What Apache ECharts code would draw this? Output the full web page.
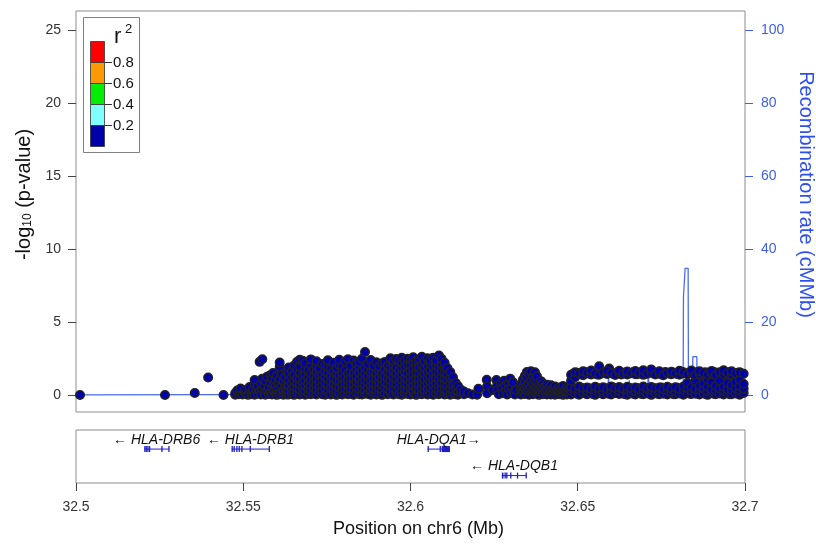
<!DOCTYPE html>
<html><head><meta charset="utf-8">
<script src="https://cdn.jsdelivr.net/npm/echarts@6/dist/echarts.min.js"></script>
<style>html,body{margin:0;padding:0;background:#fff}#c{width:816px;height:544px}</style>
</head><body><div id="c"></div>
<script>
// ---- Data (positions in Mb on chr6, values are -log10 p) ----
// Each entry: [position, logp, logp, ...] (SNPs, grouped by position)
const snpsWest = [
 [32.5012,0.0],[32.5266,0.0],[32.5355,0.14],[32.5395,1.2],[32.5441,0.0],
 [32.5476,0.02,0.12],[32.5482,0.31],[32.5487,0.05],[32.5492,0.18,0.45],[32.5498,0.03],
 [32.5503,0.22],[32.5508,0.08,0.36],[32.5514,0.01],[32.5519,0.27,0.55],[32.5524,0.06],
 [32.5529,0.15,0.41],[32.5534,0.02,0.72,1.02],[32.5539,0.33],[32.5543,0.09,0.58],
 [32.5549,0.24,2.27],[32.5553,0.04,0.81],[32.5557,0.38,1.12,2.45],[32.5562,0.12,0.63],
 [32.5566,0.02,0.95],[32.5571,0.29,1.25],[32.5576,0.07,0.52],[32.5581,0.18,0.86,1.36],
 [32.5586,0.03,0.44,1.15],[32.5589,1.50],[32.5591,0.25,0.72],[32.5596,0.09,0.58,1.02],
 [32.5600,0.01,0.35,1.31],[32.5605,0.16,0.80],[32.5609,0.05,0.47,1.08,1.62,1.92,2.22],
 [32.5615,0.21,0.66,1.42],[32.5620,0.02,0.31,0.93],[32.5625,0.12,0.55,1.20],
 [32.5630,0.04,0.38,0.78,1.58]
];
const snpsBlockLow = [
 [32.5640,0.17,0.52,0.90,1.28],[32.5649,0.22,0.60,0.98],[32.5656,0.14,0.47,0.83,1.19],
 [32.5665,0.25,0.63,1.04],[32.5673,0.19,0.55,0.93,1.31],[32.5681,0.10,0.45,0.81,1.17],
 [32.5690,0.23,0.58,0.96],[32.5698,0.16,0.50,0.87,1.24],[32.5706,0.21,0.61,1.00],
 [32.5715,0.13,0.46,0.84,1.22],[32.5723,0.24,0.59,0.97],[32.5732,0.18,0.51,0.89,1.26],
 [32.5740,0.11,0.48,0.85,1.16],[32.5749,0.26,0.62,1.03],[32.5757,0.15,0.53,0.91,1.29],
 [32.5766,0.20,0.57,0.94],[32.5774,0.12,0.49,0.86,1.23],[32.5783,0.24,0.60,1.01],
 [32.5791,0.17,0.54,0.90,1.27],[32.5800,0.22,0.56,0.95],[32.5808,0.14,0.50,0.88,1.25],
 [32.5817,0.25,0.63,1.02],[32.5825,0.18,0.47,0.84,1.20],[32.5834,0.10,0.58,0.96],
 [32.5842,0.21,0.52,0.92,1.30],[32.5851,0.16,0.61,0.99],[32.5859,0.23,0.46,0.85,1.21],
 [32.5868,0.13,0.55,0.93],[32.5876,0.20,0.59,0.97,1.33],[32.5885,0.24,0.48,0.87],
 [32.5893,0.15,0.57,0.94,1.26],[32.5902,0.22,0.51,0.89],[32.5910,0.12,0.62,1.00,1.35],
 [32.5919,0.25,0.54,0.91],[32.5927,0.17,0.49,0.86,1.24],[32.5936,0.21,0.60,0.98],
 [32.5944,0.14,0.53,0.92,1.30],[32.5953,0.23,0.58,0.95],[32.5961,0.11,0.47,0.85,1.22],
 [32.5970,0.19,0.61,1.01],[32.5978,0.24,0.52,0.90,1.28],[32.5987,0.16,0.56,0.94],
 [32.5995,0.22,0.50,0.88,1.32],[32.6004,0.13,0.59,0.97],[32.6012,0.20,0.48,0.86,1.25],
 [32.6021,0.25,0.62,1.02],[32.6029,0.15,0.54,0.91,1.29],[32.6038,0.21,0.57,0.96],
 [32.6046,0.12,0.51,0.89,1.27],[32.6055,0.24,0.60,0.99],[32.6063,0.18,0.46,0.84,1.23],
 [32.6072,0.14,0.58,0.95],[32.6080,0.23,0.53,0.92,1.31],[32.6089,0.17,0.61,1.00],
 [32.6097,0.20,0.49,0.87,1.26],[32.6106,0.25,0.56,0.94],[32.6114,0.13,0.52,0.90,1.18],
 [32.6123,0.22,0.59,0.97],[32.6131,0.16,0.48,0.68]
];
const snpsEastLow = [
 [32.6486,0.18,0.44,1.46],[32.6498,0.08,0.36,1.52],[32.6510,0.21,0.49,1.42],[32.6522,0.11,0.38,1.58],
 [32.6534,0.19,0.47,1.45],[32.6546,0.07,0.35,1.53],[32.6558,0.22,0.50,1.40],[32.6570,0.10,0.39,1.57],
 [32.6582,0.17,0.46,1.49],[32.6594,0.08,0.33,1.62,1.82],[32.6606,0.20,0.51,1.44],[32.6618,0.12,0.37,1.56],
 [32.6630,0.18,0.45,1.41],[32.6642,0.06,0.34,1.54],[32.6654,0.21,0.49,1.47],[32.6666,0.09,0.36,1.58],
 [32.6678,0.19,0.48,1.42],[32.6690,0.07,0.32,1.55],[32.6702,0.22,0.50,1.45],[32.6714,0.11,0.39,1.60],
 [32.6726,0.17,0.46,1.48],[32.6738,0.08,0.34,1.53],[32.6750,0.20,0.51,1.40],[32.6762,0.12,0.37,1.57],
 [32.6774,0.18,0.47,1.46],[32.6786,0.06,0.33,1.52],[32.6798,0.21,0.49,1.44],[32.6810,0.10,0.38,1.59],
 [32.6822,0.17,0.45,1.47],[32.6834,0.08,0.35,1.54],[32.6846,0.19,0.50,1.41],[32.6858,0.11,0.36,1.58,1.05],
 [32.6870,0.20,0.48,1.45],[32.6882,0.07,0.33,1.55,0.88],[32.6894,0.18,0.47,1.42],[32.6906,0.09,0.38,1.60,1.00],
 [32.6918,0.21,0.51,1.47],[32.6930,0.12,0.35,1.53,0.84],[32.6942,0.17,0.46,1.39],[32.6954,0.06,0.32,1.57,1.02],
 [32.6966,0.20,0.49,1.44],[32.6978,0.10,0.37,1.52,0.80],[32.6990,0.18,0.45,1.48]
];
const snpsBlockA = [
 [32.5636,0.03,0.31,0.66,1.02,1.45,1.88],[32.5645,0.08,0.42,0.79,1.21,1.62],
 [32.5652,0.01,0.27,0.58,0.97,1.38,2.02],[32.5661,0.12,0.49,0.84,1.15,1.74,2.28],
 [32.5669,0.04,0.36,0.71,1.09,1.53,1.96,2.41],[32.5678,0.15,0.52,0.88,1.32,2.35],
 [32.5685,0.02,0.29,0.63,1.01,1.44,1.81,2.18],[32.5694,0.09,0.44,0.77,1.19,1.67],
 [32.5702,0.05,0.33,0.69,1.06,1.49,2.08,2.44],[32.5711,0.11,0.47,0.86,1.27,1.72],
 [32.5719,0.03,0.38,0.74,1.12,1.58,1.99,2.31],[32.5728,0.14,0.55,0.92,1.35,1.83],
 [32.5736,0.06,0.31,0.67,1.04,1.41,2.12],[32.5745,0.02,0.43,0.81,1.24,1.63,2.02],
 [32.5753,0.10,0.35,0.72,1.08,1.51,1.92,2.38],[32.5762,0.04,0.48,0.89,1.31,1.76],
 [32.5770,0.13,0.39,0.76,1.14,1.57,2.21],[32.5779,0.01,0.28,0.64,0.99,1.46,1.85],
 [32.5787,0.08,0.51,0.91,1.33,2.05,2.42],[32.5796,0.03,0.37,0.73,1.11,1.54,1.97],
 [32.5804,0.12,0.45,0.83,1.22,1.68,2.29],[32.5813,0.05,0.32,0.68,1.05,1.47,2.45],
 [32.5821,0.09,0.41,0.79,1.18,1.61,2.01],[32.5830,0.02,0.34,0.71,1.13,1.52,2.36],
 [32.5838,0.14,0.53,0.87,1.28,1.79,2.17],[32.5847,0.06,0.38,0.75,1.09,1.48,1.91,2.27],
 [32.5855,0.03,0.44,0.82,1.24,1.66,2.48],[32.5864,0.11,0.35,0.69,1.03,1.42,1.87,2.95],
 [32.5872,0.07,0.49,0.86,1.29,1.73,2.12],[32.5881,0.02,0.31,0.66,1.07,1.55,2.39]
];
const snpsBlockB = [
 [32.5889,0.13,0.42,0.78,1.16,1.59,2.01],[32.5898,0.04,0.36,0.72,1.11,1.49,2.24],
 [32.5906,0.09,0.47,0.84,1.23,1.64,1.95],[32.5915,0.01,0.33,0.70,1.08,1.45,2.18],
 [32.5923,0.12,0.51,0.89,1.30,1.77,2.26],[32.5932,0.05,0.39,0.76,1.14,1.56,1.98],
 [32.5940,0.10,0.28,0.64,1.02,1.43,1.86,2.51],[32.5949,0.03,0.45,0.81,1.21,1.62,2.04,2.33],
 [32.5957,0.14,0.37,0.73,1.12,1.51,1.89,2.46],[32.5966,0.06,0.50,0.87,1.27,1.69,2.11,2.38],
 [32.5974,0.02,0.32,0.68,1.05,1.44,1.84,2.22,2.55],[32.5983,0.11,0.43,0.79,1.17,1.58,1.97,2.36],
 [32.5991,0.07,0.35,0.71,1.10,1.48,2.07,2.49],[32.6000,0.04,0.48,0.85,1.25,1.66,2.02,2.41],
 [32.6008,0.13,0.30,0.66,1.03,1.42,1.81,2.27,2.58],[32.6017,0.01,0.41,0.77,1.15,1.55,1.94,2.35],
 [32.6025,0.09,0.36,0.74,1.13,1.52,1.91,2.44],[32.6034,0.05,0.46,0.83,1.22,1.63,2.05,2.62],
 [32.6042,0.12,0.33,0.69,1.07,1.47,1.86,2.31],[32.6051,0.03,0.40,0.78,1.18,1.57,1.99,2.52],
 [32.6059,0.08,0.52,0.90,1.29,1.71,2.13,2.40],[32.6068,0.02,0.34,0.70,1.09,1.50,1.93,2.56],
 [32.6076,0.10,0.44,0.80,1.20,1.60,2.03,2.37],[32.6085,0.06,0.31,0.67,1.06,1.46,1.88,2.70],
 [32.6093,0.13,0.47,0.84,1.23,1.65,2.08,2.48],[32.6102,0.04,0.38,0.75,1.14,1.54,1.96,2.21],
 [32.6110,0.09,0.29,0.65,1.04,1.43,1.85],[32.6119,0.02,0.42,0.79,1.19,1.58],
 [32.6127,0.11,0.35,0.72,1.21],[32.6135,0.05,0.46,0.83],[32.6142,0.02,0.22,0.61],
 [32.6150,0.15,0.38],[32.6160,0.06,0.24],[32.6172,0.12],[32.6185,0.03]
];
const snpsMiddle = [
 [32.6199,0.02],[32.6203,0.42],[32.6228,1.05],[32.6229,0.58,0.12],[32.6246,0.35],
 [32.6257,1.02],[32.6259,0.64,0.28],[32.6264,0.05],[32.6270,0.82],[32.6273,0.45],
 [32.6276,0.12],[32.6280,0.98],[32.6283,0.62],[32.6286,0.25],[32.6289,0.03],[32.6292,0.78],
 [32.6295,0.41],[32.6298,1.12],[32.6300,0.15],[32.6303,0.56],[32.6306,0.88],[32.6309,0.22],
 [32.6312,0.04],[32.6315,0.35],
 [32.6330,0.03,0.36,0.72],[32.6336,0.18,0.55,1.05],[32.6342,0.07,0.44,0.88,1.32],
 [32.6348,0.25,0.63,1.18,1.58],[32.6354,0.02,0.39,0.81,1.45],[32.6360,0.14,0.52,0.97,1.62],
 [32.6366,0.05,0.33,0.74,1.21],[32.6372,0.21,0.60,1.02,1.55],[32.6378,0.09,0.46,0.86,1.28],
 [32.6384,0.01,0.30,0.69],[32.6390,0.17,0.57,0.95],[32.6396,0.06,0.41,0.78],
 [32.6402,0.23,0.62],[32.6408,0.03,0.37,0.71],[32.6414,0.13,0.50],[32.6420,0.04,0.28,0.66],
 [32.6426,0.19,0.45],[32.6432,0.02,0.33,0.58],[32.6438,0.11,0.40],[32.6444,0.05,0.26,0.52],
 [32.6450,0.15,0.43],[32.6456,0.01,0.30,0.61],[32.6462,0.09,0.38],[32.6468,0.03,0.24,0.55],
 [32.6474,0.12,0.46]
];
const snpsEast = [
 [32.6480,0.04,0.29,0.55,0.98,1.38],[32.6492,0.12,0.41,1.21,1.55],[32.6504,0.02,0.33,0.58,1.47],
 [32.6516,0.15,0.46,1.36,1.62],[32.6528,0.06,0.27,0.52,1.51],[32.6540,0.10,0.39,1.41,1.67],
 [32.6552,0.01,0.31,0.57,1.48],[32.6564,0.13,0.44,1.39,1.97],[32.6576,0.05,0.26,0.53,1.56],
 [32.6588,0.11,0.40,1.44,1.63],[32.6600,0.03,0.34,0.59,1.50],[32.6612,0.14,0.47,1.37],
 [32.6624,0.07,0.28,0.54,1.53,1.66],[32.6636,0.09,0.42,1.45],[32.6648,0.02,0.32,0.56,1.40,1.61],
 [32.6660,0.12,0.45,1.49],[32.6672,0.04,0.25,0.51,1.43,1.64],[32.6684,0.16,0.38,1.52],
 [32.6696,0.06,0.30,0.58,1.38,1.70],[32.6708,0.10,0.43,1.46],[32.6720,0.01,0.35,0.55,1.54,1.75],
 [32.6732,0.13,0.46,1.41],[32.6744,0.05,0.27,0.52,1.48,1.63],[32.6756,0.08,0.40,1.36],
 [32.6768,0.03,0.31,0.57,1.51],[32.6780,0.15,0.44,1.43,1.60],[32.6792,0.06,0.26,0.53,1.47],
 [32.6804,0.11,0.39,1.39,1.66],[32.6816,0.02,0.33,0.58,1.55],[32.6828,0.14,0.47,0.82,1.42],
 [32.6840,0.07,0.29,0.54,1.50,1.68],[32.6852,0.09,0.41,0.95,1.37],[32.6864,0.04,0.34,0.61,1.46,1.62],
 [32.6876,0.12,0.45,0.78,1.53],[32.6888,0.01,0.26,0.56,1.04,1.40],[32.6900,0.16,0.38,0.88,1.49,1.65],
 [32.6912,0.05,0.31,0.63,1.36],[32.6924,0.10,0.44,0.97,1.55],[32.6936,0.03,0.28,0.57,1.43,1.70],
 [32.6948,0.13,0.40,0.82,1.51],[32.6960,0.06,0.35,0.66,1.38,1.62],[32.6972,0.11,0.47,0.91,1.48],
 [32.6984,0.02,0.29,0.59,1.05,1.56],[32.6996,0.14,0.42,0.75,1.45]
];
// Recombination rate (cM/Mb)
const recombPos  = [32.5000,32.5400,32.5600,32.5900,32.6100,32.6150,32.6250,32.6300,32.6500,32.6590,32.6592,32.6594,32.6652,32.6654,32.6656,32.6709,32.6711,32.6713,32.6815,32.6816,32.6821,32.6830,32.6831,32.6843,32.6844,32.6856,32.6857,32.6900,32.7000];
const recombRate = [0.05,0.08,0.15,0.3,0.5,0.8,0.9,0.6,0.4,0.4,5.0,0.4,0.5,4.0,0.5,0.5,8.2,0.5,0.6,26.8,34.7,34.7,0.8,0.8,10.5,10.5,0.6,0.4,0.3];
// Genes
const genes = [
 {name:'HLA-DRB6', start:32.5204, end:32.5278, strand:-1, row:0,
  exons:[[32.5204,32.5206],[32.5208,32.5210],[32.5213,32.5215],[32.5218,32.5220],[32.5255,32.5257],[32.5276,32.5278]]},
 {name:'HLA-DRB1', start:32.5465, end:32.5578, strand:-1, row:0,
  exons:[[32.5465,32.5467],[32.5471,32.5473],[32.5479,32.5481],[32.5486,32.5488],[32.5494,32.5496],[32.5519,32.5521],[32.5576,32.5578]]},
 {name:'HLA-DQA1', start:32.6051, end:32.6118, strand:1, row:0,
  exons:[[32.6051,32.6053],[32.6087,32.6089],[32.6093,32.6118]]},
 {name:'HLA-DQB1', start:32.6273, end:32.6346, strand:-1, row:1,
  exons:[[32.6273,32.6278],[32.6281,32.6283],[32.6286,32.6288],[32.6298,32.6300],[32.6318,32.6320],[32.6344,32.6346]]}
];
const xTicks = [32.5, 32.55, 32.6, 32.65, 32.7];
const yTicksLeft = [0, 5, 10, 15, 20, 25];
const yTicksRight = [0, 20, 40, 60, 80, 100];
const r2Labels = ['0.8', '0.6', '0.4', '0.2'];
const r2Colors = ['#FF0000', '#FF9900', '#00EE00', '#7FFFFF', '#0000AA'];

// ---- Build ----
const FONT = '"Liberation Sans", Arial, Helvetica, sans-serif';
const BLUE_AXIS = '#3F5FE6';
const LINE_BLUE = '#4C6CF0';
const GENE_BLUE = '#1E1EC8';
function flatten(groups) {
  const out = [];
  groups.forEach(g => { for (let i = 1; i < g.length; i++) out.push([g[0], g[i]]); });
  return out;
}
const snpData = flatten([].concat(snpsBlockLow, snpsEastLow, snpsWest, snpsBlockA, snpsBlockB, snpsMiddle, snpsEast));
const recombData = recombPos.map((p, i) => [p, recombRate[i]]);

const chart = echarts.init(document.getElementById('c'), null, {renderer: 'canvas'});
const graphic = [
  {type:'rect', z:100, shape:{x:83.5, y:17.5, width:56, height:135}, style:{fill:'#fff', stroke:'#808080', lineWidth:1}}
];
r2Colors.forEach((c, i) => graphic.push({type:'rect', z:101, shape:{x:90.5, y:41.5 + i*21, width:14, height:21}, style:{fill:c, stroke:'#333', lineWidth:0.8}}));
r2Labels.forEach((t, i) => {
  graphic.push({type:'line', z:101, shape:{x1:104.5, y1:62.5 + i*21, x2:112, y2:62.5 + i*21}, style:{stroke:'#333', lineWidth:1}});
  graphic.push({type:'text', z:101, style:{text:t, x:113, y:62.5 + i*21, verticalAlign:'middle', font:'15px ' + FONT, fill:'#111'}});
});
graphic.push({type:'text', z:101, style:{text:'r', x:114, y:37, verticalAlign:'middle', font:'22px ' + FONT, fill:'#111'}});
graphic.push({type:'text', z:101, style:{text:'2', x:125, y:29, verticalAlign:'middle', font:'13px ' + FONT, fill:'#111'}});

const option = {
  animation: false,
  textStyle: {fontFamily: FONT},
  graphic: graphic,
  grid: [
    {left:76, right:71, top:11, height:401, show:true, borderColor:'#8c8c8c', borderWidth:1, backgroundColor:'transparent', containLabel:false, outerBoundsMode:'none'},
    {left:76, right:71, top:430, height:53, show:true, borderColor:'#8c8c8c', borderWidth:1, backgroundColor:'transparent', containLabel:false, outerBoundsMode:'none'}
  ],
  xAxis: [
    {type:'value', gridIndex:0, min:32.5, max:32.7, show:false},
    {type:'value', gridIndex:1, min:32.5, max:32.7, position:'bottom',
     axisLine:{show:false, onZero:false}, splitLine:{show:false},
     axisTick:{show:true, customValues:xTicks, length:8, lineStyle:{color:'#444'}},
     axisLabel:{customValues:xTicks, margin:17, fontSize:14, color:'#333', formatter: v => String(+v.toFixed(2))},
     name:'Position on chr6 (Mb)', nameLocation:'middle', nameGap:37,
     nameTextStyle:{fontSize:18, color:'#111', padding:[0,0,0,16]}}
  ],
  yAxis: [
    {type:'value', gridIndex:0, min:-1.164, max:26.3, position:'left',
     axisLine:{show:false, onZero:false}, splitLine:{show:false},
     axisTick:{show:true, customValues:yTicksLeft, length:8, lineStyle:{color:'#444'}},
     axisLabel:{customValues:yTicksLeft, margin:15, fontSize:14, color:'#333'},
     name:'-log{s|10} (p-value)', nameLocation:'middle', nameGap:42,
     nameTextStyle:{fontSize:20, color:'#111', padding:[0,0,0,34],
       rich:{s:{fontSize:12, verticalAlign:'bottom', color:'#111'}}}},
    {type:'value', gridIndex:0, min:-4.656, max:105.2, position:'right',
     axisLine:{show:false, onZero:false}, splitLine:{show:false},
     axisTick:{show:true, customValues:yTicksRight, length:8, lineStyle:{color:BLUE_AXIS}},
     axisLabel:{customValues:yTicksRight, margin:16, fontSize:14, color:BLUE_AXIS},
     name:'Recombination rate (cMMb)', nameLocation:'middle', nameRotate:-90, nameGap:40,
     nameTextStyle:{fontSize:20, color:'#2E4FEF', padding:[0,34,0,0]}},
    {type:'value', gridIndex:1, min:0, max:2, inverse:true, show:false}
  ],
  series: [
    {type:'line', xAxisIndex:0, yAxisIndex:1, data:recombData, symbol:'none', z:1,
     lineStyle:{color:LINE_BLUE, width:1.3}, silent:true},
    {type:'scatter', xAxisIndex:0, yAxisIndex:0, data:snpData, symbol:'circle', symbolSize:8.5, z:2, large:false,
     itemStyle:{color:'#0000AE', borderColor:'#222222', borderWidth:1.5, opacity:1}, silent:true},
    {type:'custom', xAxisIndex:1, yAxisIndex:2, clip:false, silent:true,
     data: genes.map((g, i) => [g.start, g.end, g.row, i]),
     renderItem: function (params, api) {
       const g = genes[api.value(3)];
       const y = api.coord([g.start, g.row + 0.72])[1];
       const x0 = api.coord([g.start, 0])[0];
       const x1 = api.coord([g.end, 0])[0];
       const children = [{type:'line', shape:{x1:x0, y1:y, x2:x1, y2:y}, style:{stroke:GENE_BLUE, lineWidth:1}}];
       g.exons.forEach(e => {
         const a = api.coord([e[0], 0])[0], b = api.coord([e[1], 0])[0];
         children.push({type:'rect', shape:{x:a, y:y - 3, width:Math.max(b - a, 1.3), height:6}, style:{fill:GENE_BLUE}});
       });
       const label = g.strand < 0 ? '\u2190 ' + g.name : g.name + '\u2192';
       children.push({type:'text', style:{text:label, x:(x0 + x1) / 2, y:y - 9, align:'center', verticalAlign:'middle',
         font:'italic 14px ' + FONT, fill:'#111'}});
       return {type:'group', children: children};
     }}
  ]
};
chart.setOption(option);
</script></body></html>
